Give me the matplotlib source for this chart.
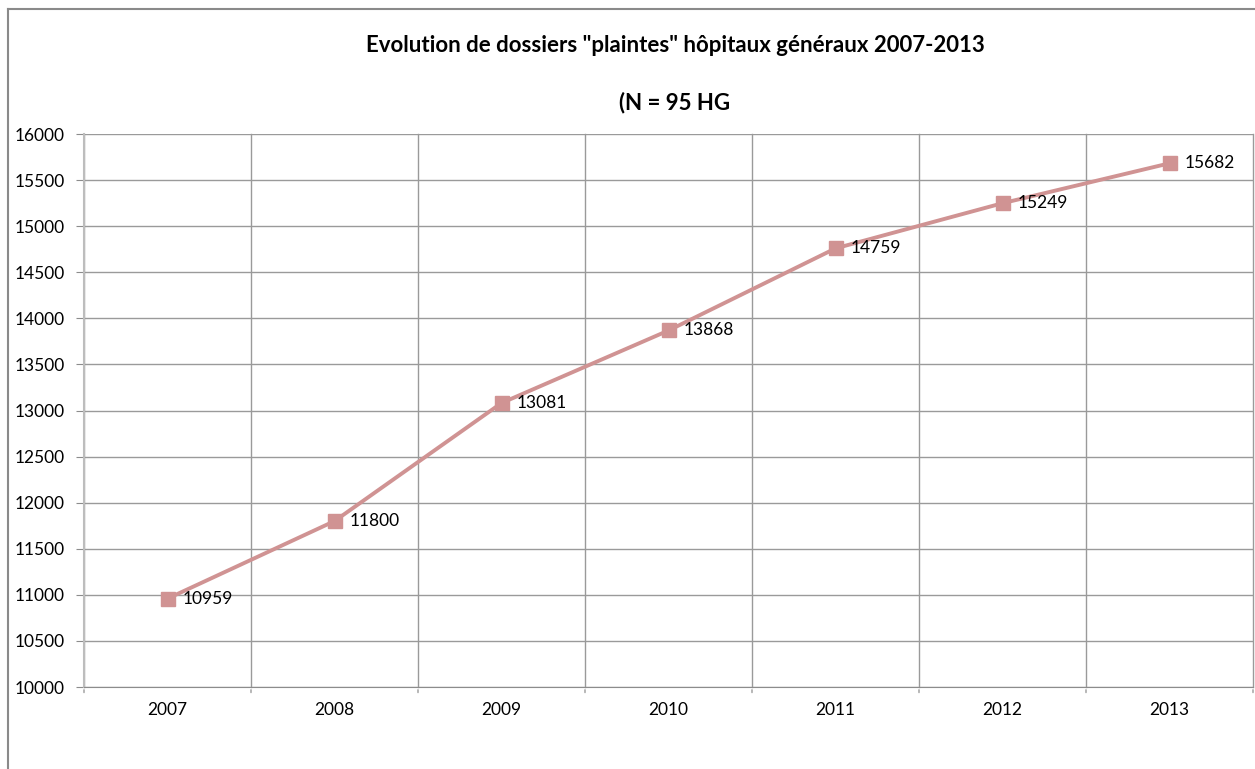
import matplotlib
matplotlib.use("Agg")
import matplotlib.pyplot as plt
from matplotlib.lines import Line2D

plt.rcParams['font.family'] = ['Lato', 'DejaVu Sans']

years = ['2007', '2008', '2009', '2010', '2011', '2012', '2013']
dossiers = [10959, 11800, 13081, 13868, 14759, 15249, 15682]
y_ticks = list(range(10000, 16001, 500))

W, H = 1255, 769
fig = plt.figure(figsize=(W / 100, H / 100), dpi=100)
ax = fig.add_axes([84 / W, 1 - 687 / H, (1253 - 84) / W, (687 - 134) / H])

x = list(range(len(years)))
line_col = '#d09393'
ax.plot(x, dossiers, color=line_col, lw=2.8, marker='s', ms=9.5,
        mfc=line_col, mec=line_col, zorder=3)
for xi, v in zip(x, dossiers):
    ax.annotate(str(v), (xi, v), xytext=(11, 0), textcoords='offset points',
                va='center', ha='left', fontsize=12.5, color='black')

ax.set_xlim(-0.5, len(years) - 0.5)
ax.set_ylim(10000, 16000)
ax.set_yticks(y_ticks)
ax.set_yticklabels([str(t) for t in y_ticks], fontsize=12.5)
ax.set_xticks(x)
ax.set_xticklabels(years, fontsize=12.5)
ax.tick_params(axis='x', length=0, pad=11)
ax.tick_params(axis='y', length=6, color='#8c8c8c', pad=8)

# gridlines between categories, with small ticks below the axis
for b in range(len(years) + 1):
    ax.plot([b - 0.5, b - 0.5], [10000, 16000], color='#9a9a9a', lw=1, zorder=1,
            clip_on=False)
    ax.annotate('', xy=(b - 0.5, 10000), xytext=(0, -6), textcoords='offset points',
                arrowprops=dict(arrowstyle='-', color='#9a9a9a', lw=1))
ax.grid(axis='y', color='#9a9a9a', lw=1, zorder=1)
for s in ax.spines.values():
    s.set_visible(False)
ax.spines['left'].set_visible(True)
ax.spines['left'].set_color('#bdbdbd')
ax.spines['left'].set_linewidth(1.5)
ax.spines['bottom'].set_visible(True)
ax.spines['bottom'].set_color('#8c8c8c')

# outer chart frame
fig.add_artist(Line2D([8 / W, 8 / W], [0, 1 - 9 / H], color='#8a8a8a', lw=1.5,
                      transform=fig.transFigure))
fig.add_artist(Line2D([8 / W, 1], [1 - 9 / H, 1 - 9 / H], color='#8a8a8a', lw=1.5,
                      transform=fig.transFigure))

fig.text(675 / W, 1 - 45 / H, 'Evolution de dossiers "plaintes" hôpitaux généraux 2007-2013',
         ha='center', va='center', fontsize=16, fontweight='bold')
fig.text(675 / W, 1 - 103 / H, '(N = 95 HG', ha='center', va='center',
         fontsize=16, fontweight='bold')

fig.savefig('out.png', dpi=100)
